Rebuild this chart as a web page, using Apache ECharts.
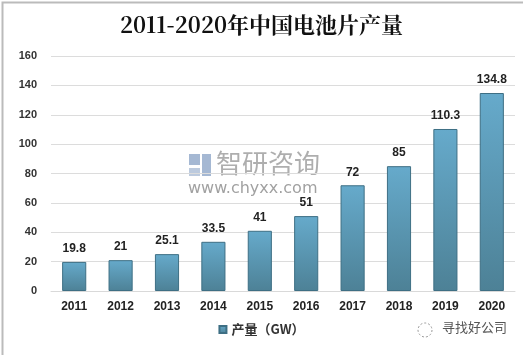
<!DOCTYPE html>
<html><head><meta charset="utf-8">
<script src="https://cdn.jsdelivr.net/npm/echarts@6/dist/echarts.min.js"></script>
<style>html,body{margin:0;padding:0;background:#fff}#c{width:523px;height:355px}</style>
</head><body><div id="c"></div>
<script>
const categories = ['2011','2012','2013','2014','2015','2016','2017','2018','2019','2020'];
const output = [19.8, 21, 25.1, 33.5, 41, 51, 72, 85, 110.3, 134.8];
const yTicks = [0, 20, 40, 60, 80, 100, 120, 140, 160];
const seriesName = '产量（GW）';
const titleText = '2011-2020年中国电池片产量';

const chart = echarts.init(document.getElementById('c'), null, {renderer:'canvas'});
chart.setOption({
  backgroundColor:'#fff',
  animation:false,
  title:{text:titleText,left:'center',top:9,textStyle:{fontFamily:'"Noto Serif CJK SC","DejaVu Serif",serif',fontSize:22,fontWeight:'bold',color:'#111'}},
  graphic:[
    {type:'rect',left:0,top:0,shape:{width:522,height:354},style:{fill:'none',stroke:'#bbb',lineWidth:2}},
    {type:'rect',left:189,top:154,shape:{width:11,height:11},style:{fill:'#8fa6c8',opacity:0.8}},
    {type:'rect',left:202,top:154,shape:{width:9,height:22},style:{fill:'#8fa6c8',opacity:0.8}},
    {type:'rect',left:189,top:168,shape:{width:11,height:8},style:{fill:'#8fa6c8',opacity:0.6}},
    {type:'text',left:216,top:150,style:{text:'智研咨询',font:'26px "Noto Sans CJK SC"',fill:'#9a9a9a',opacity:0.8}},
    {type:'text',left:188,top:181,style:{text:'www.chyxx.com',font:'16px "DejaVu Sans"',fill:'#8a8a8a',opacity:0.8,letterSpacing:2}},
    {type:'circle',shape:{cx:425,cy:330,r:7},style:{fill:'none',stroke:'#999',lineWidth:1,lineDash:[2,2]}},
    {type:'text',left:442,top:321,style:{text:'寻找好公司',font:'13px "Noto Sans CJK SC"',fill:'#555'}}
  ],
  legend:{bottom:14,left:'center',itemWidth:7,itemHeight:7,icon:'rect',itemGap:4,
    textStyle:{fontFamily:'"Noto Sans CJK SC"',fontSize:13,fontWeight:'bold',color:'#333'},data:[seriesName]},
  grid:{left:51,right:8,top:56,bottom:64},
  xAxis:{type:'category',data:categories,axisTick:{show:false},
    axisLine:{lineStyle:{color:'#d9d9d9'}},
    axisLabel:{fontFamily:'"Liberation Sans"',fontSize:12,fontWeight:'bold',color:'#222',margin:10}},
  yAxis:{type:'value',min:yTicks[0],max:yTicks[yTicks.length-1],interval:20,
    axisLine:{show:false},axisTick:{show:false},
    splitLine:{lineStyle:{color:'#dcdcdc'}},
    axisLabel:{fontFamily:'"Liberation Sans"',fontSize:11,fontWeight:'bold',color:'#333',margin:14}},
  series:[{name:seriesName,type:'bar',data:output,barWidth:'52%',
    itemStyle:{color:new echarts.graphic.LinearGradient(0,0,0,1,[{offset:0,color:'#66aacb'},{offset:1,color:'#4d8196'}]),
      borderColor:'#3e6f84',borderWidth:1},
    label:{show:true,position:'top',distance:7,fontFamily:'"Liberation Sans"',fontSize:12,fontWeight:'bold',color:'#222'}}]
});
</script></body></html>
